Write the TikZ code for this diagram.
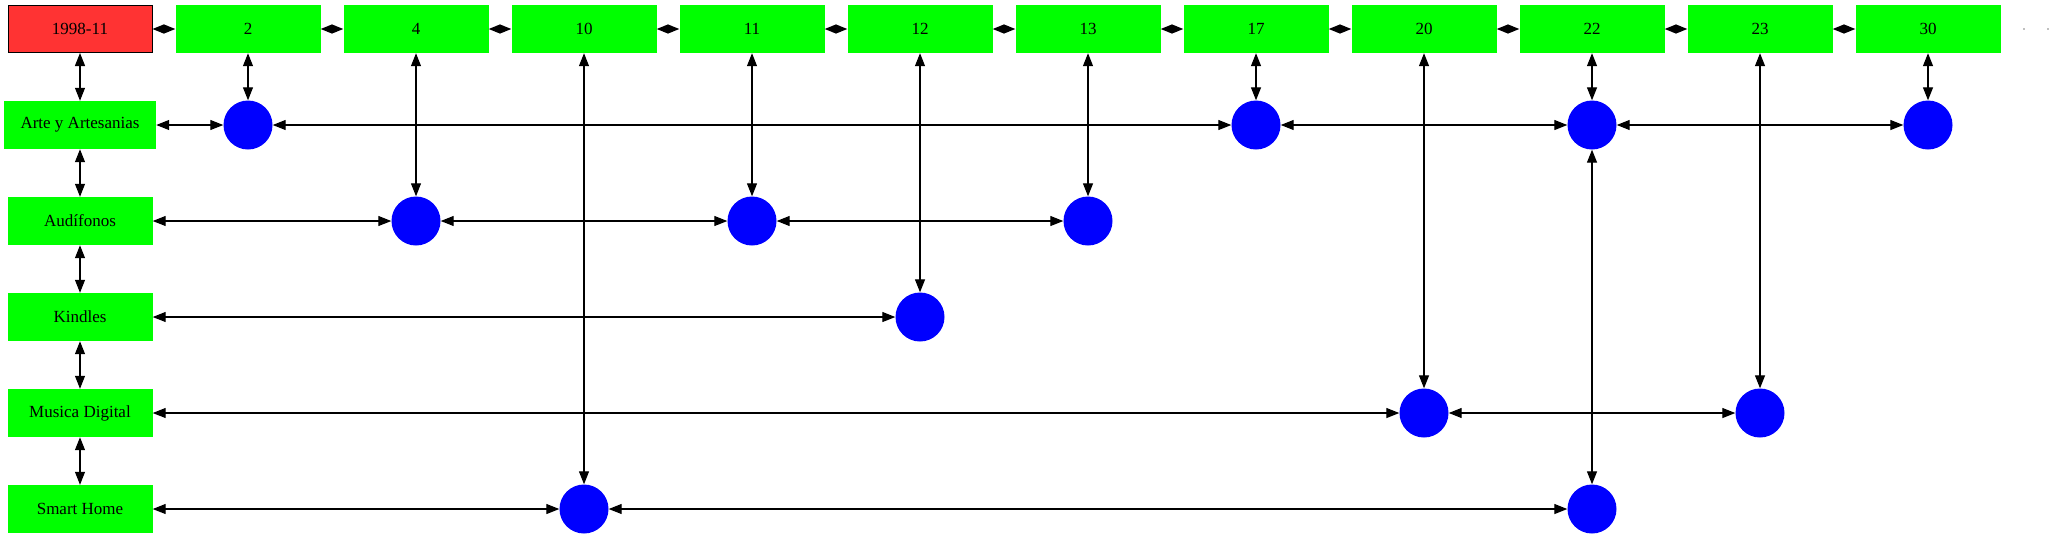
\documentclass[tikz,border=0pt]{standalone}
\usepackage{fontspec}
\setmainfont{Liberation Serif}
\usetikzlibrary{arrows.meta}
\definecolor{gr}{HTML}{00FF00}
\definecolor{rd}{HTML}{FF3333}
\definecolor{bl}{HTML}{0000FF}
\begin{document}
\begin{tikzpicture}[x=1pt,y=-1pt,
  font=\fontsize{17}{19}\selectfont,
  gbox/.style={fill=gr, minimum width=145pt, minimum height=48pt, inner sep=0pt},
  rbox/.style={fill=rd, draw=black, line width=1pt, minimum width=144pt, minimum height=47pt, inner sep=0pt},
  dot/.style={circle, fill=bl, minimum size=49pt, inner sep=0pt},
  link/.style={line width=1.2pt, {Triangle[length=13pt,width=10pt]}-{Triangle[length=13pt,width=10pt]}},
  tlink/.style={line width=1.2pt, {Triangle[length=11.5pt,width=9pt]}-{Triangle[length=11.5pt,width=9pt]}},
  tiny/.style={circle, fill=gray, minimum size=1.6pt, inner sep=0pt}]
\useasboundingbox (0,0) rectangle (2053,539);
% top row
\node[rbox] (t0) at (80,29) {1998-11};
\node[gbox] (t2) at (248,29) {2};
\node[gbox] (t4) at (416,29) {4};
\node[gbox] (t10) at (584,29) {10};
\node[gbox] (t11) at (752,29) {11};
\node[gbox] (t12) at (920,29) {12};
\node[gbox] (t13) at (1088,29) {13};
\node[gbox] (t17) at (1256,29) {17};
\node[gbox] (t20) at (1424,29) {20};
\node[gbox] (t22) at (1592,29) {22};
\node[gbox] (t23) at (1760,29) {23};
\node[gbox] (t30) at (1928,29) {30};
\node[tiny] (d1) at (2024,29) {};
\node[tiny] (d2) at (2048,29) {};
% row labels
\node[gbox, minimum width=152pt] (r1) at (80,125) {Arte y Artesanias};
\node[gbox] (r2) at (80,221) {Audífonos};
\node[gbox] (r3) at (80,317) {Kindles};
\node[gbox] (r4) at (80,413) {Musica Digital};
\node[gbox] (r5) at (80,509) {Smart Home};
% circles
\node[dot] (a2) at (248,125) {};
\node[dot] (a17) at (1256,125) {};
\node[dot] (a22) at (1592,125) {};
\node[dot] (a30) at (1928,125) {};
\node[dot] (b4) at (416,221) {};
\node[dot] (b11) at (752,221) {};
\node[dot] (b13) at (1088,221) {};
\node[dot] (k12) at (920,317) {};
\node[dot] (m20) at (1424,413) {};
\node[dot] (m23) at (1760,413) {};
\node[dot] (s10) at (584,509) {};
\node[dot] (s22) at (1592,509) {};
% top row links
\draw[tlink] (t0) -- (t2);
\draw[tlink] (t2) -- (t4);
\draw[tlink] (t4) -- (t10);
\draw[tlink] (t10) -- (t11);
\draw[tlink] (t11) -- (t12);
\draw[tlink] (t12) -- (t13);
\draw[tlink] (t13) -- (t17);
\draw[tlink] (t17) -- (t20);
\draw[tlink] (t20) -- (t22);
\draw[tlink] (t22) -- (t23);
\draw[tlink] (t23) -- (t30);
% left column
\draw[link] (t0) -- (r1);
\draw[link] (r1) -- (r2);
\draw[link] (r2) -- (r3);
\draw[link] (r3) -- (r4);
\draw[link] (r4) -- (r5);
% verticals
\draw[link] (t2) -- (a2);
\draw[link] (t4) -- (b4);
\draw[link] (t10) -- (s10);
\draw[link] (t11) -- (b11);
\draw[link] (t12) -- (k12);
\draw[link] (t13) -- (b13);
\draw[link] (t17) -- (a17);
\draw[link] (t20) -- (m20);
\draw[link] (t22) -- (a22);
\draw[link] (a22) -- (s22);
\draw[link] (t23) -- (m23);
\draw[link] (t30) -- (a30);
% horizontals
\draw[link] (r1) -- (a2);
\draw[link] (a2) -- (a17);
\draw[link] (a17) -- (a22);
\draw[link] (a22) -- (a30);
\draw[link] (r2) -- (b4);
\draw[link] (b4) -- (b11);
\draw[link] (b11) -- (b13);
\draw[link] (r3) -- (k12);
\draw[link] (r4) -- (m20);
\draw[link] (m20) -- (m23);
\draw[link] (r5) -- (s10);
\draw[link] (s10) -- (s22);
\end{tikzpicture}
\end{document}
